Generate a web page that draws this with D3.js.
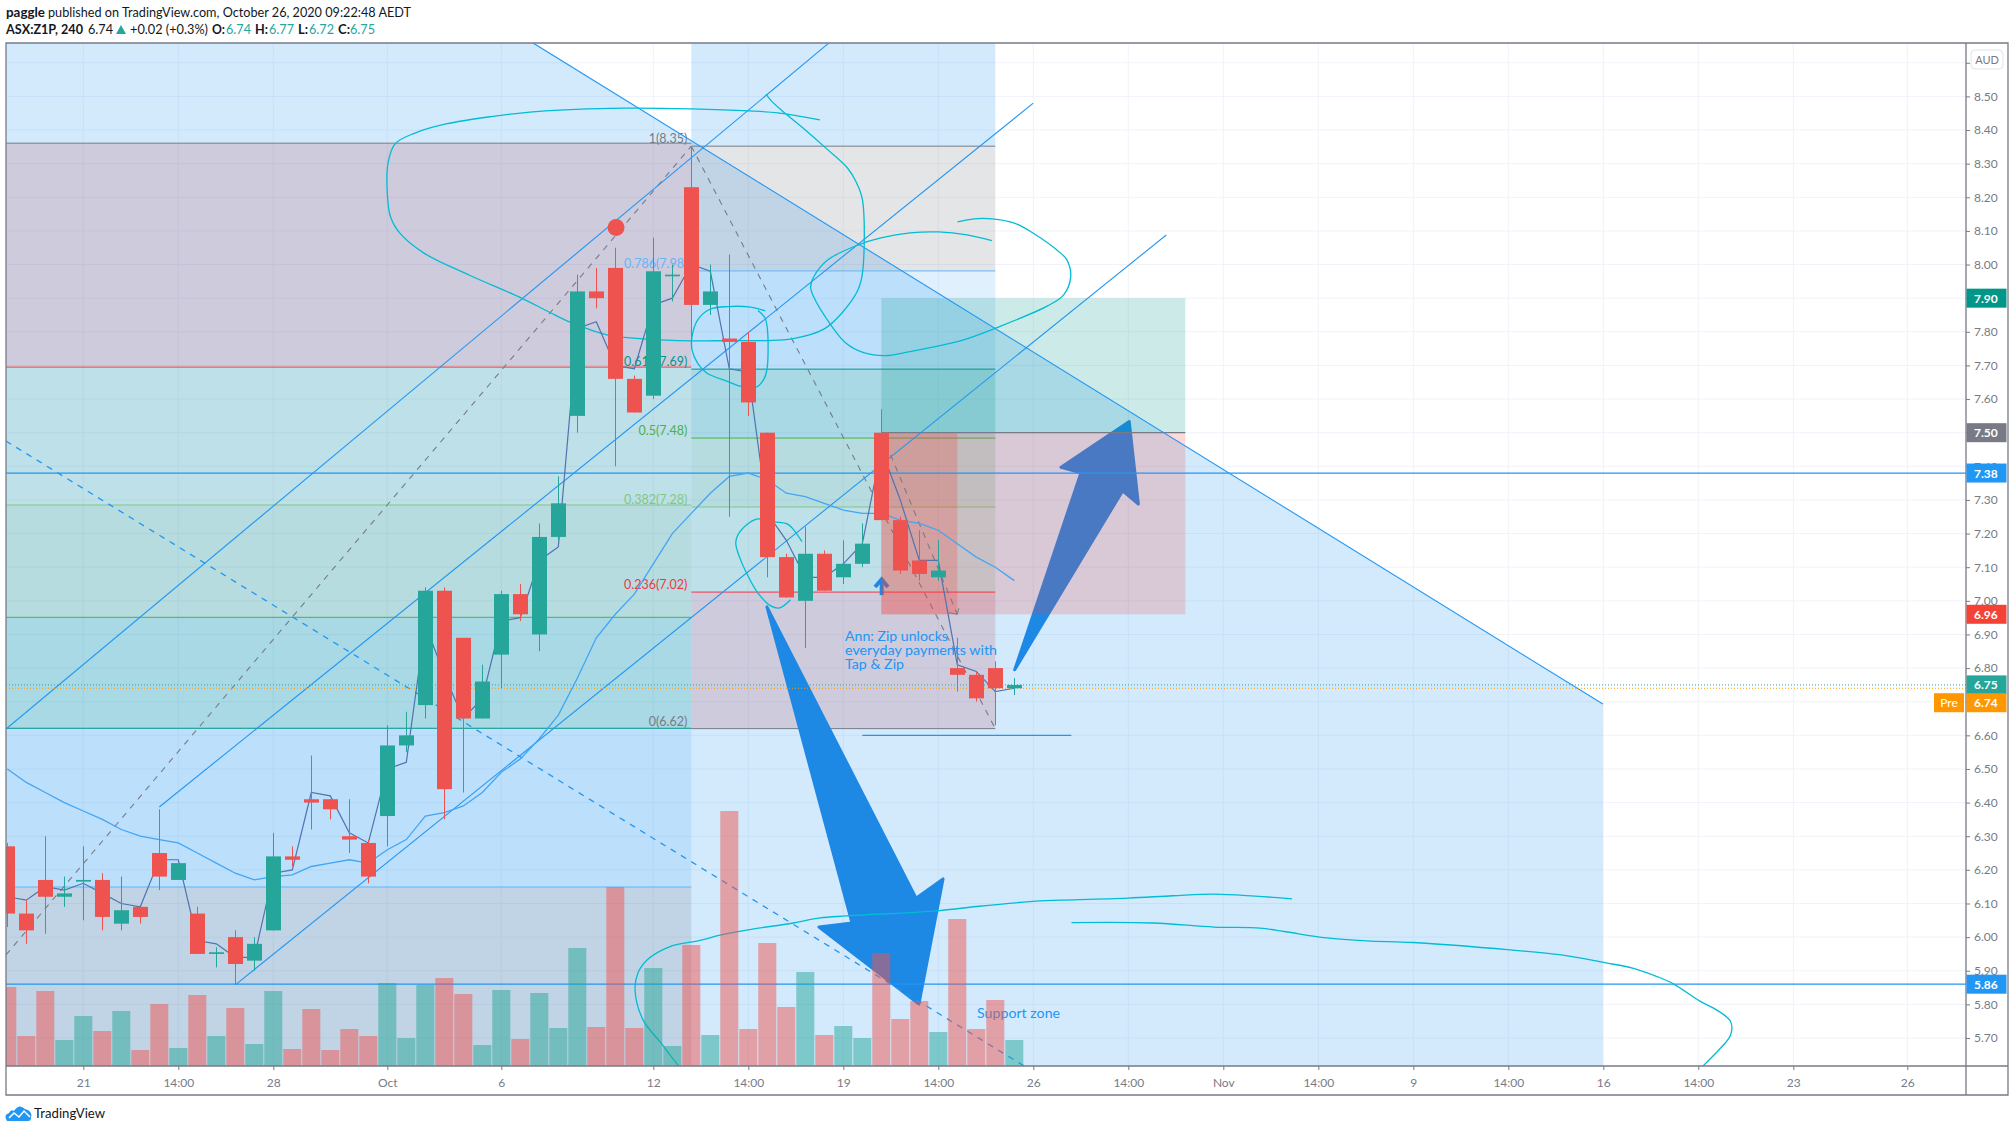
<!DOCTYPE html>
<html><head><meta charset="utf-8">
<script src="https://cdn.jsdelivr.net/npm/d3@7/dist/d3.min.js"></script>
<style>
html,body{margin:0;padding:0;background:#fff}
svg{display:block;font-family:Lato,"Open Sans",sans-serif}
</style></head><body><svg id="c" width="2015" height="1132"></svg>
<script>
// ---------- candle data (one entry per 4h bar) ----------
const open  = [6.27,6.07,6.17,6.12,6.165,6.17,6.04,6.09,6.25,6.17,6.07,5.95,6.00,5.93,6.02,6.24,6.41,6.41,6.30,6.28,6.36,6.57,6.69,7.03,6.89,6.65,6.84,7.02,6.90,7.19,7.55,7.92,7.99,7.66,7.61,7.965,8.23,7.88,7.78,7.77,7.50,7.13,7.00,7.14,7.07,7.11,7.50,7.24,7.12,7.07,6.80,6.78,6.80,6.74];
const high  = [6.28,6.11,6.30,6.18,6.27,6.19,6.18,6.09,6.38,6.22,6.09,5.97,6.02,6.00,6.31,6.27,6.54,6.41,6.41,6.29,6.63,6.67,7.04,7.04,6.89,6.81,7.03,7.05,7.23,7.37,7.97,7.99,8.05,7.67,8.08,8.00,8.35,8.00,8.03,7.80,7.50,7.14,7.22,7.15,7.18,7.23,7.57,7.25,7.21,7.18,6.89,6.79,6.82,6.77];
const low   = [6.03,5.98,6.01,6.09,6.05,6.02,6.02,6.04,6.14,6.17,5.95,5.91,5.86,5.90,6.02,6.21,6.32,6.35,6.25,6.16,6.27,6.55,6.65,6.35,6.43,6.65,6.74,6.94,6.85,7.18,7.50,7.87,7.40,7.56,7.60,7.89,7.75,7.85,7.25,7.55,7.07,7.01,6.86,7.03,7.05,7.10,7.24,7.08,7.06,7.06,6.73,6.70,6.63,6.72];
const close = [6.07,6.02,6.12,6.13,6.17,6.06,6.08,6.06,6.18,6.22,5.95,5.955,5.92,5.98,6.24,6.23,6.40,6.38,6.29,6.18,6.57,6.60,7.03,6.44,6.65,6.76,7.02,6.96,7.19,7.29,7.92,7.90,7.66,7.56,7.98,7.97,7.88,7.92,7.77,7.59,7.13,7.01,7.14,7.03,7.11,7.17,7.24,7.09,7.08,7.09,6.78,6.71,6.74,6.75];
const volume= [79,30,75,26,50,35,55,16,62,18,71,30,58,22,75,17,57,16,37,30,83,28,81,88,72,21,76,27,73,38,118,39,179,38,98,20,121,31,255,37,123,59,94,31,40,28,113,47,65,34,147,37,66,26];
const priceLine=[6.12,6.11,6.15,6.14,6.16,6.13,6.10,6.09,6.23,6.23,5.99,5.98,5.94,5.94,6.19,6.20,6.43,6.42,6.31,6.28,6.50,6.52,6.93,6.78,6.65,6.71,6.94,6.95,7.12,7.16,7.81,7.83,7.70,7.69,7.88,7.90,8.00,7.98,7.69,7.68,7.26,7.18,7.07,7.07,7.11,7.17,7.45,7.30,7.12,7.12,6.81,6.79,6.73,6.74];
const avgLine=[6.50,6.46,6.43,6.40,6.375,6.35,6.32,6.30,6.29,6.28,6.25,6.22,6.19,6.17,6.18,6.185,6.21,6.22,6.23,6.22,6.26,6.29,6.36,6.37,6.39,6.43,6.49,6.53,6.59,6.66,6.77,6.89,6.96,7.02,7.11,7.20,7.26,7.32,7.37,7.38,7.36,7.32,7.31,7.29,7.27,7.26,7.26,7.24,7.23,7.21,7.17,7.13,7.10,7.06];

// ---------- axes ----------
const timeBars  =[4,9,14,20,26,34,39,44,49,54,59,64,69,74,79,84,89,94,100];
const timeLabels=["21","14:00","28","Oct","6","12","14:00","19","14:00","26","14:00","Nov","14:00","9","14:00","16","14:00","23","26"];
const priceTicks=[8.6,8.5,8.4,8.3,8.2,8.1,8.0,7.9,7.8,7.7,7.6,7.5,7.4,7.3,7.2,7.1,7.0,6.9,6.8,6.7,6.6,6.5,6.4,6.3,6.2,6.1,6.0,5.9,5.8,5.7];

// ---------- drawings, [bar, price] ----------
const wedge=[[-1,8.659],[27.67,8.659],[83.98,6.693],[83.98,5.5],[-1,5.5]];
const trendLines=[
 [[27.67,8.659],[83.98,6.693]],
 [[-0.07,6.619],[43.25,8.659]],
 [[8,6.387],[54,8.48]],
 [[12,5.858],[61,8.088]]];
const dashBlue=[[-0.07,7.475],[53.51,5.617]];
const dashFib=[[[-0.07,5.947],[36,8.352]],[[36,8.352],[52,6.62]]];
const hLines=[7.38,5.86];
const shortLine=[[45,6.60],[56,6.60]];
const fibLeftLevels=[8.361,7.695,7.285,6.951,6.621,6.149,5.54];
const fibLeftColors=["#c0505f","#6fb894","#47a46c","#009688","#64b5f6","#787b86"];
const fibLeftLines=["#787b86","#f44336","#81c784","#4caf50","#009688","#64b5f6"];
const fibRightLevels=[8.352,7.981,7.689,7.484,7.279,7.026,6.62];
const fibRightNames=["1(8.35)","0.786(7.98)","0.618(7.69)","0.5(7.48)","0.382(7.28)","0.236(7.02)","0(6.62)"];
const fibRightColors=["#787b86","#64b5f6","#009688","#4caf50","#81c784","#f23645","#787b86"];
const fibRightFills=["#787b86","#64b5f6","#009688","#47a46c","#6fb894","#c0505f"];
const position={from:46,to:62,target:7.90,entry:7.50,stop:6.96};
const rangeBox={from:46,to:50,top:7.50,bottom:6.96};
const marker=[32.04,8.11];
const bigArrow=[[39.98,6.982],[47.83,6.116],[49.25,6.173],[47.98,5.801],[42.72,6.030],[44.46,6.042]];
const upArrow=[[53.02,6.795],[58.7,7.327],[59.53,7.288],[59.05,7.533],[55.46,7.397],[56.51,7.381]];
const tinyHead=[[45.67,7.041],[46.02,7.064],[46.35,7.041]];
const tinyShaft=[[46.02,7.064],[46.02,7.017]];
const sketches=[
 [[42.77,8.430],[40.56,8.451],[39.04,8.457],[36.04,8.463],[32.51,8.465],[27.83,8.455],[25.46,8.440],[23.09,8.418],[21.46,8.391],[20.41,8.359],[20.04,8.302],[20.01,8.202],[20.17,8.142],[20.65,8.094],[21.93,8.034],[24.30,7.969],[27.04,7.901],[28.51,7.859],[29.69,7.827],[31.56,7.791],[33.46,7.779],[36.04,7.773],[38.09,7.774],[39.98,7.774],[41.30,7.779],[42.98,7.808],[43.93,7.856],[44.77,7.924],[45.01,7.975],[45.01,8.192],[44.67,8.246],[44.22,8.287],[43.19,8.341],[41.88,8.406],[40.72,8.460],[40.18,8.489],[39.93,8.507]],
 [[51.82,8.071],[50.51,8.088],[49.02,8.097],[47.51,8.094],[45.98,8.079],[44.77,8.058],[43.19,8.014],[42.44,7.963],[42.28,7.933],[42.44,7.904],[43.35,7.820],[44.13,7.767],[45.07,7.738],[46.19,7.729],[47.51,7.741],[50.33,7.776],[52.02,7.811],[54.75,7.877],[55.60,7.910],[55.97,7.964],[55.77,8.014],[55.50,8.031],[53.98,8.094],[52.96,8.124],[51.83,8.136],[50.88,8.136],[50.01,8.127]],
 [[39.90,7.862],[39.04,7.874],[37.93,7.875],[36.98,7.867],[36.33,7.835],[36.04,7.786],[36.04,7.746],[36.33,7.707],[36.79,7.678],[37.93,7.652],[38.67,7.637],[39.43,7.636],[39.80,7.657],[39.98,7.687],[40.01,7.805],[39.88,7.841],[39.51,7.863]],
 [[41.83,7.176],[41.30,7.217],[41.04,7.229],[40.35,7.235],[39.43,7.243],[38.56,7.206],[38.34,7.172],[38.56,7.127],[38.96,7.077],[39.51,7.023],[40.18,6.985],[40.65,6.979],[41.22,7.003]],
 [[67.62,6.114],[65.67,6.122],[63.51,6.128],[61.35,6.123],[58.96,6.116],[55.46,6.110],[54.35,6.108],[51.02,6.091],[49.09,6.079],[44.18,6.063],[42.77,6.057],[41.35,6.042],[38.92,6.021],[37.51,6.006],[36.46,5.990],[34.88,5.972],[33.67,5.932],[33.19,5.893],[33.04,5.843],[33.46,5.754],[34.39,5.686],[35.33,5.617],[36.0,5.57]],
 [[56.01,6.043],[60.30,6.042],[63.51,6.030],[65.93,6.027],[67.28,6.016],[69.43,5.998],[71.56,5.989],[73.98,5.984],[79.09,5.962],[81.78,5.947],[84.07,5.924],[85.54,5.908],[86.86,5.882],[87.69,5.861],[89.04,5.811],[89.98,5.783],[90.70,5.749],[90.70,5.709],[90.09,5.665],[89.25,5.617],[88.8,5.59]]];
const annLines=["Ann: Zip unlocks","everyday payments with","Tap & Zip"];
const annAt=[44.09,6.881];
const supportAt=[51.04,5.760];
const axisTags=[
 {t:"7.90",p:7.90,c:"#009688"},{t:"7.50",p:7.50,c:"#787b86"},{t:"7.38",p:7.38,c:"#2196f3"},
 {t:"6.96",p:6.96,c:"#f44336"},{t:"6.75",p:6.75,c:"#26a69a"},{t:"5.86",p:5.86,c:"#2196f3"}];
const preTag={t:"6.74",label:"Pre",shown:6.697,c:"#ff9800"};

// ---------- scales ----------
const L=6,R=1966,T=43,B=1066,FR=2008,FB=1095;
const x=d3.scaleLinear().domain([0,100]).range([7.3,1907.3]);
const y=d3.scaleLinear().domain([8.5,5.7]).range([96.4,1038]);
const v=d3.scaleLinear().domain([0,255]).range([B,811]);
const line=d3.line().x(d=>x(d[0])).y(d=>y(d[1]));
const smooth=d3.line().x(d=>x(d[0])).y(d=>y(d[1])).curve(d3.curveCatmullRom.alpha(.5));
const GREEN="#26a69a",RED="#ef5350",BLUE="#2196f3",CYAN="#00bcd4",GRAY="#787b86",ARROW="#1e88e5";

const svg=d3.select("#c");
svg.append("defs").append("clipPath").attr("id","pane").append("rect").attr("x",L).attr("y",T).attr("width",R-L).attr("height",B-T);
const g=svg.append("g").attr("clip-path","url(#pane)");

// grid
g.append("g").selectAll("line").data(priceTicks).join("line").attr("x1",L).attr("x2",R).attr("y1",d=>y(d)).attr("y2",d=>y(d)).attr("stroke","#f0f3fa");
g.append("g").selectAll("line").data(timeBars).join("line").attr("x1",d=>x(d)).attr("x2",d=>x(d)).attr("y1",T).attr("y2",B).attr("stroke","#f0f3fa");

// wedge shade
g.append("path").attr("d",line(wedge)+"Z").attr("fill",BLUE).attr("fill-opacity",.2);

// fib zones
const rect=(gg,b0,b1,p0,p1,c,o)=>gg.append("rect").attr("x",x(b0)).attr("width",x(b1)-x(b0)).attr("y",y(p0)).attr("height",y(p1)-y(p0)).attr("fill",c).attr("fill-opacity",o);
fibLeftColors.forEach((c,i)=>rect(g,-1,36,fibLeftLevels[i],fibLeftLevels[i+1],c,.2));
fibRightFills.forEach((c,i)=>rect(g,36,52,fibRightLevels[i],fibRightLevels[i+1],c,.2));
rect(g,36,52,8.8,fibRightLevels[0],BLUE,.2);
fibLeftLines.forEach((c,i)=>g.append("line").attr("x1",L).attr("x2",x(36)).attr("y1",y(fibLeftLevels[i])).attr("y2",y(fibLeftLevels[i])).attr("stroke",c));
fibRightColors.forEach((c,i)=>{
  g.append("line").attr("x1",x(36)).attr("x2",x(52)).attr("y1",y(fibRightLevels[i])).attr("y2",y(fibRightLevels[i])).attr("stroke",c);
  g.append("text").attr("x",x(36)-4).attr("y",y(fibRightLevels[i])-3).attr("text-anchor","end").attr("font-size",12.5).attr("fill",c).text(fibRightNames[i]);
});
dashFib.forEach(d=>g.append("path").attr("d",line(d)).attr("fill","none").attr("stroke",GRAY).attr("stroke-width",1.1).attr("stroke-dasharray","6 6"));

// arrows under the position box
[bigArrow,upArrow].forEach(a=>g.append("path").attr("d",line(a)+"Z").attr("fill",ARROW).attr("stroke",ARROW).attr("stroke-width",3).attr("stroke-linejoin","round"));
g.append("path").attr("d",line(tinyHead)).attr("fill","none").attr("stroke",ARROW).attr("stroke-width",4);
g.append("path").attr("d",line(tinyShaft)).attr("fill","none").attr("stroke",ARROW).attr("stroke-width",4);

// position
rect(g,position.from,position.to,position.target,position.entry,"#009688",.2);
rect(g,position.from,position.to,position.entry,position.stop,"#f44336",.2);
rect(g,rangeBox.from,rangeBox.to,rangeBox.top,rangeBox.bottom,"#f44336",.25);
g.append("line").attr("x1",x(position.from)).attr("x2",x(position.to)).attr("y1",y(position.entry)).attr("y2",y(position.entry)).attr("stroke",GRAY).attr("stroke-width",1.2);
g.append("path").attr("d",line([[rangeBox.from,rangeBox.top],[rangeBox.to,rangeBox.bottom]])).attr("fill","none").attr("stroke",GRAY).attr("stroke-width",1.1).attr("stroke-dasharray","6 6");
g.append("path").attr("d",line([[rangeBox.to+.08,rangeBox.bottom+.018],[rangeBox.to,rangeBox.bottom],[rangeBox.to-.45,rangeBox.bottom+.005]])).attr("fill","none").attr("stroke",GRAY);

// lines
trendLines.forEach(d=>g.append("path").attr("d",line(d)).attr("fill","none").attr("stroke",BLUE).attr("stroke-width",1.1));
g.append("path").attr("d",line(dashBlue)).attr("fill","none").attr("stroke",BLUE).attr("stroke-width",1.3).attr("stroke-dasharray","6 6");
hLines.forEach(p=>g.append("line").attr("x1",L).attr("x2",R).attr("y1",y(p)).attr("y2",y(p)).attr("stroke",BLUE).attr("stroke-width",1.2));
g.append("path").attr("d",line(shortLine)).attr("stroke",BLUE).attr("stroke-width",1.4).attr("fill","none");
g.append("circle").attr("cx",x(marker[0])).attr("cy",y(marker[1])).attr("r",8.5).attr("fill",RED);
sketches.forEach(d=>g.append("path").attr("d",smooth(d)).attr("fill","none").attr("stroke",CYAN).attr("stroke-width",1.3).attr("stroke-linejoin","round"));

// notes
const annWidths=[103,152,59];
annLines.forEach((t,i)=>g.append("text").attr("x",x(annAt[0])).attr("y",y(annAt[1])+i*14).attr("font-size",14).attr("fill",BLUE).attr("textLength",annWidths[i]).attr("lengthAdjust","spacingAndGlyphs").text(t));
g.append("text").attr("x",x(supportAt[0])).attr("y",y(supportAt[1])).attr("font-size",14).attr("fill",BLUE).attr("textLength",83).attr("lengthAdjust","spacingAndGlyphs").text("Support zone");

// volume
const idx=d3.range(open.length);
g.append("g").selectAll("rect").data(idx).join("rect")
 .attr("x",i=>x(i)-9).attr("width",18).attr("y",i=>v(volume[i])).attr("height",i=>B-v(volume[i]))
 .attr("fill",i=>close[i]>=open[i]?GREEN:RED).attr("fill-opacity",.5);

// price lines
g.append("path").attr("d",d3.line().x((d,i)=>x(i)).y(d=>y(d))(avgLine)).attr("fill","none").attr("stroke","#42a5f5").attr("stroke-width",1.3);
g.append("path").attr("d",d3.line().x((d,i)=>x(i)).y(d=>y(d))(priceLine)).attr("fill","none").attr("stroke","#4f74b0").attr("stroke-width",1.2);

// last-price dotted
[[6.75,"#26a69a"],[6.74,"#ff9800"]].forEach(([p,c])=>g.append("line").attr("x1",L).attr("x2",R).attr("y1",y(p)).attr("y2",y(p)).attr("stroke",c).attr("stroke-dasharray","1 2"));

// candles
const col=i=>close[i]>=open[i]?GREEN:RED;
g.append("g").selectAll("line").data(idx).join("line")
 .attr("x1",i=>Math.round(x(i))+.5).attr("x2",i=>Math.round(x(i))+.5).attr("y1",i=>y(high[i])).attr("y2",i=>y(low[i])).attr("stroke",col);
g.append("g").selectAll("rect").data(idx).join("rect")
 .attr("x",i=>Math.round(x(i))-7).attr("width",15)
 .attr("y",i=>Math.min(y(open[i]),y(close[i])))
 .attr("height",i=>Math.max(1.5,Math.abs(y(open[i])-y(close[i])))).attr("fill",col);

// axes
const fr=svg.append("g");
const ax=fr.append("g").attr("transform",`translate(0,${B})`).call(d3.axisBottom(x).tickValues(timeBars).tickFormat((d,i)=>timeLabels[i]).tickSize(4));
const ay=fr.append("g").attr("transform",`translate(${R},0)`).call(d3.axisRight(y).tickValues(priceTicks).tickFormat(d=>d>8.55?"":d3.format(".2f")(d)).tickSize(4));
[ax,ay].forEach(a=>{a.select(".domain").remove();a.selectAll("line").attr("stroke",GRAY);a.selectAll("text").attr("fill",GRAY).attr("font-size",12).attr("font-family","Lato,sans-serif");});
ax.selectAll("text").attr("y",12);
ay.selectAll("text").attr("x",8);
fr.append("path").attr("d",`M${L} ${T}H${FR}V${FB}H${L}Z M${L} ${B}H${FR} M${R} ${T}V${FB}`).attr("fill","none").attr("stroke",GRAY).attr("stroke-width",1.3);

// AUD button
fr.append("rect").attr("x",1971).attr("y",50).attr("width",32).attr("height",19).attr("rx",4).attr("fill","#fff").attr("stroke","#e0e3eb");
fr.append("text").attr("x",1987).attr("y",63.5).attr("text-anchor","middle").attr("font-size",11).attr("fill",GRAY).text("AUD");

// price tags
const tag=(p,t,c)=>{
  fr.append("rect").attr("x",R+.5).attr("y",y(p)-9.5).attr("width",40).attr("height",19).attr("fill",c);
  fr.append("text").attr("x",R+8).attr("y",y(p)+4.5).attr("font-size",12).attr("font-weight",700).attr("fill","#fff").text(t);
};
axisTags.forEach(d=>tag(d.p,d.t,d.c));
tag(preTag.shown,preTag.t,preTag.c);
fr.append("rect").attr("x",1934).attr("y",y(preTag.shown)-9.5).attr("width",30).attr("height",19).attr("fill",preTag.c);
fr.append("text").attr("x",1949).attr("y",y(preTag.shown)+4.5).attr("text-anchor","middle").attr("font-size",12).attr("fill","#fff").text(preTag.label);

// header
const hd=(xp,yp,t,c,b,w)=>{const e=svg.append("text").attr("x",xp).attr("y",yp).attr("font-size",13).attr("fill",c).attr("font-weight",b?700:400).text(t); if(w)e.attr("textLength",w).attr("lengthAdjust","spacingAndGlyphs");};
const INK="#131722";
hd(6,17,"paggle",INK,1,39);
hd(48,17,"published on TradingView.com, October 26, 2020 09:22:48 AEDT",INK,0,363);
hd(6,34,"ASX:Z1P, 240",INK,1,77);
hd(88,34,"6.74",INK,0,25);
svg.append("path").attr("d","M116 34L121 25L126 34Z").attr("fill",GREEN);
hd(130,34,"+0.02 (+0.3%)",INK,0,78);
[["O:",212,13,"6.74",226],["H:",255,13,"6.77",269],["L:",298,10,"6.72",309],["C:",338,12,"6.75",350]].forEach(d=>{hd(d[1],34,d[0],INK,1,d[2]);hd(d[4],34,d[3],GREEN,0,25);});

// watermark
svg.append("path").attr("d","M7 1121Q3 1115 9 1113Q11 1109 14 1111Q19 1103 25 1109Q33 1111 31 1118Q31 1121 28 1121Z").attr("fill",BLUE);
svg.append("path").attr("d","M9 1118L14 1113L19 1117L24 1111L30 1117").attr("fill","none").attr("stroke","#fff").attr("stroke-width",1.5);
svg.append("text").attr("x",34).attr("y",1118).attr("font-size",13).attr("fill","#131722").attr("textLength",71).attr("lengthAdjust","spacingAndGlyphs").text("TradingView");
</script></body></html>
